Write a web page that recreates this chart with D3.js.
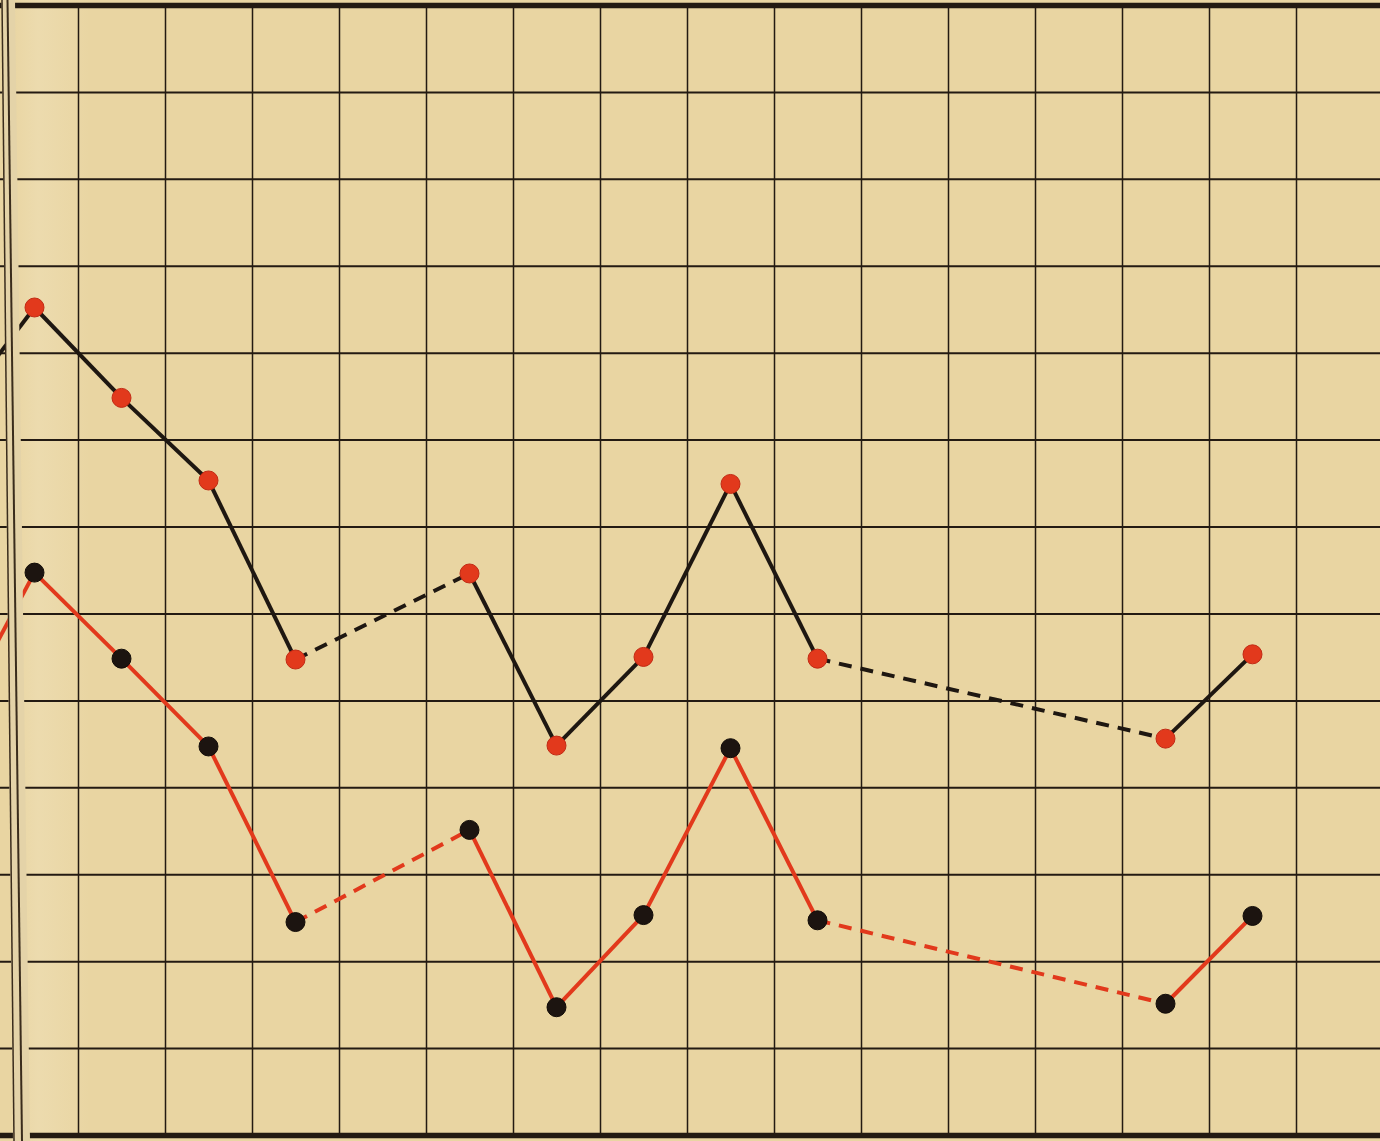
<!DOCTYPE html>
<html>
<head>
<meta charset="utf-8">
<script src="https://cdn.jsdelivr.net/npm/d3@7"></script>
<style>
  html, body { margin: 0; padding: 0; background: #e9d5a2; overflow: hidden; }
  svg { display: block; }
</style>
</head>
<body>
<svg id="chart"></svg>
<script>
// column of each reading; a jump of more than one column is drawn dashed
const columns = [-1, 0, 1, 2, 3, 5, 6, 7, 8, 9, 13, 14];
// upper curve (black line, red dots), in grid rows from the bottom
const upperValues = [8.2, 9.52, 8.48, 7.53, 5.47, 6.46, 4.48, 5.50, 7.49, 5.48, 4.56, 5.53];
// lower curve (red line, black dots)
const lowerValues = [4.6, 6.47, 5.48, 4.47, 2.45, 3.51, 1.47, 2.53, 4.45, 2.47, 1.51, 2.52];

const colRules = d3.range(-0.5, 15, 1);
const rowRules = d3.range(0, 14, 1);

const width = 1380;
const height = 1141;

const paper = "#e9d5a2";
const ink = "#231a12";
const red = "#e2391c";

const svg = d3.select("#chart").attr("width", width).attr("height", height);

const x = d3.scaleLinear().domain([0, 14]).range([34.5, 1252.5]);
const y = d3.scaleLinear().domain([0, 13]).range([1135, 5]);

svg.append("rect").attr("width", width).attr("height", height).attr("fill", paper);

// faint light strip next to the binding
const grad = svg.append("defs").append("linearGradient").attr("id", "strip");
grad.append("stop").attr("offset", "0").attr("stop-color", "#f2e6c4").attr("stop-opacity", 0);
grad.append("stop").attr("offset", "0.35").attr("stop-color", "#f2e6c4").attr("stop-opacity", 0.35);
grad.append("stop").attr("offset", "1").attr("stop-color", "#f2e6c4").attr("stop-opacity", 0);
svg.append("rect").attr("x", 10).attr("y", 0).attr("width", 80).attr("height", height)
  .attr("fill", "url(#strip)");

// grid
svg.append("g")
  .attr("transform", `translate(0,${y(0)})`)
  .call(d3.axisBottom(x).tickValues(colRules).tickSize(-(y(0) - y(13))).tickFormat(""))
  .call(g => g.select(".domain").remove())
  .call(g => g.selectAll("line").attr("stroke", ink).attr("stroke-width", 1.5));

svg.append("g")
  .call(d3.axisLeft(y).tickValues(rowRules).tickSize(-width).tickFormat(""))
  .call(g => g.select(".domain").remove())
  .call(g => g.selectAll("line")
    .attr("stroke", ink)
    .attr("stroke-width", d => (d === 0 || d === 13) ? 5.5 : 2));

// segments between readings
function drawCurve(values, lineColor, dotColor, dotEdge) {
  const pts = columns.map((c, i) => ({ c, v: values[i] }));
  const line = d3.line().x(d => x(d.c)).y(d => y(d.v));
  const segs = d3.pairs(pts);
  svg.append("g")
    .selectAll("path")
    .data(segs)
    .enter()
    .append("path")
    .attr("d", d => line(d))
    .attr("fill", "none")
    .attr("stroke", lineColor)
    .attr("stroke-width", 4)
    .attr("stroke-dasharray", d => (d[1].c - d[0].c > 1) ? "13,9" : null);
  return { pts, dotColor, dotEdge };
}

const upper = drawCurve(upperValues, "#1e1711", red, "#c22a14");
const lower = drawCurve(lowerValues, red, "#1c1410", "#120c08");

// binding gutter (double rule) over the left edge
const top0 = 0, bot0 = height;
svg.append("polygon")
  .attr("points", [[1.5, top0], [15, top0], [30, bot0], [13, bot0]].join(" "))
  .attr("fill", "#e4d3a8");
svg.append("line").attr("x1", 2).attr("y1", top0).attr("x2", 14).attr("y2", bot0)
  .attr("stroke", "#3a2c1c").attr("stroke-width", 1.5);
svg.append("line").attr("x1", 7.5).attr("y1", top0).attr("x2", 22).attr("y2", bot0)
  .attr("stroke", "#3a2c1c").attr("stroke-width", 2);

// dots on top
[upper, lower].forEach(s => {
  svg.append("g")
    .selectAll("circle")
    .data(s.pts.filter(d => d.c >= 0))
    .enter()
    .append("circle")
    .attr("cx", d => x(d.c))
    .attr("cy", d => y(d.v))
    .attr("r", 9.5)
    .attr("fill", s.dotColor)
    .attr("stroke", s.dotEdge)
    .attr("stroke-width", 1);
});
</script>
</body>
</html>
